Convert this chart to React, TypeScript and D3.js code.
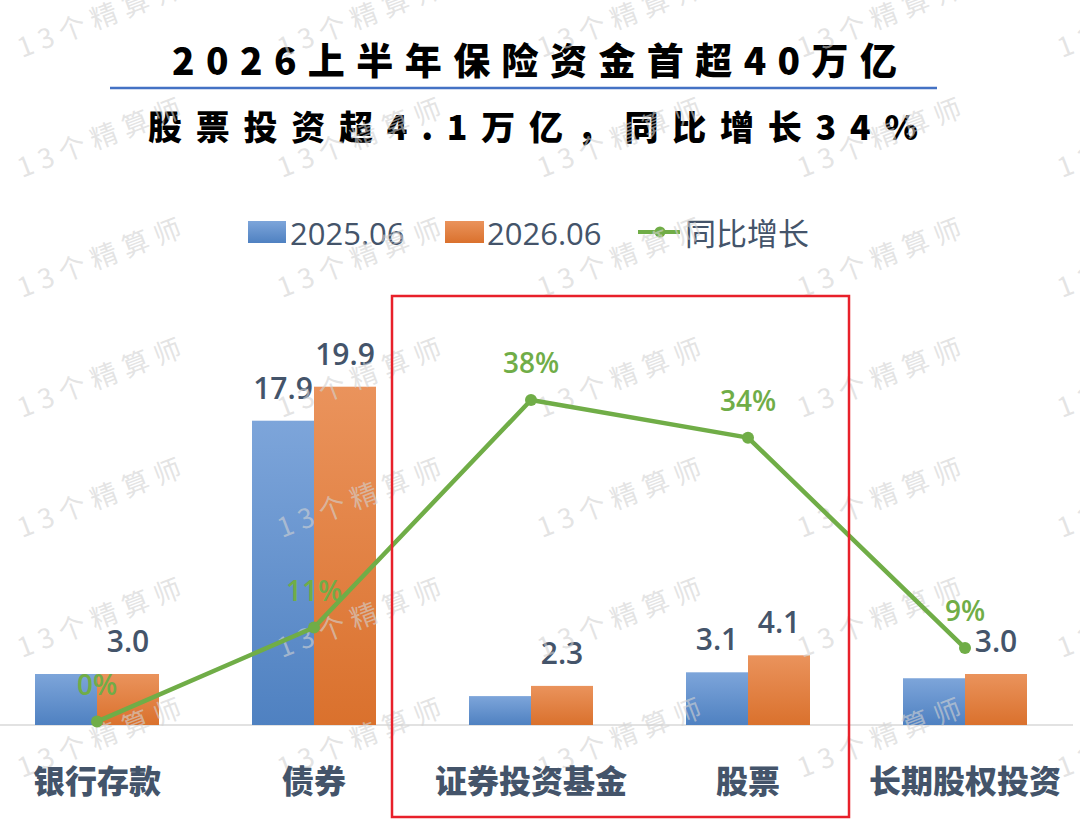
import React from "react";
import * as d3 from "d3";

const categories = ["银行存款", "债券", "证券投资基金", "股票", "长期股权投资"];
const series = ["2025.06", "2026.06"];
const values2025 = [3.0, 17.9, 1.7, 3.1, 2.75];
const values2026 = [3.0, 19.9, 2.3, 4.1, 3.0];
const show2025Label = [false, true, false, true, false];
const show2026Label = [true, true, true, true, true];
const growth = [0.004, 0.114, 0.38, 0.336, 0.09];
const growthName = "同比增长";
const title1 = "2026上半年保险资金首超40万亿";
const title2 = "股票投资超4.1万亿，同比增长34%";
const watermark = "13个精算师";

const W = 1080;
const H = 829;
const BASE = 725;

const CJK = "'Noto Sans CJK SC', 'Noto Sans', sans-serif";
const NUM = "'Open Sans', 'Noto Sans', sans-serif";
const SLATE = "#44546A";
const GREEN = "#70AD47";

export default function App() {
  const x0 = d3.scaleBand<string>().domain(categories).range([-11.5, 1073.5]).padding(0);
  const x1 = d3.scaleBand<string>().domain(series).range([-62, 62]).padding(0);
  const y = d3.scaleLinear().domain([0, 25]).range([BASE, 300]);
  const y2 = d3.scaleLinear().domain([0, 0.5]).range([BASE, BASE - 427.6]);
  const cx = (c: string) => (x0(c) as number) + x0.bandwidth() / 2;
  const pct = d3.format(".0%");
  const num = d3.format(".1f");

  const linePts: [number, number][] = categories.map((c, i) => [cx(c), y2(growth[i])]);
  const line = d3.line()(linePts) || "";

  const sets = [
    { name: series[0], vals: values2025, show: show2025Label, fill: "url(#gBlue)" },
    { name: series[1], vals: values2026, show: show2026Label, fill: "url(#gOrange)" },
  ];

  const wm: { x: number; y: number }[] = [];
  for (let i = 0; i < 5; i++) for (let j = 0; j < 7; j++) wm.push({ x: 22 + 260 * i, y: 58 + 120 * j });

  return (
    <svg
      width={W}
      height={H}
      viewBox={`0 0 ${W} ${H}`}
      style={{ position: "fixed", left: 0, top: 0, background: "#fff" }}
    >
      <defs>
        <linearGradient id="gBlue" x1="0" y1="0" x2="0" y2="1">
          <stop offset="0" stopColor="#7DA5DA" />
          <stop offset="1" stopColor="#4F81C1" />
        </linearGradient>
        <linearGradient id="gOrange" x1="0" y1="0" x2="0" y2="1">
          <stop offset="0" stopColor="#EA935C" />
          <stop offset="1" stopColor="#DA712D" />
        </linearGradient>
      </defs>
      <rect x={0} y={0} width={W} height={H} fill="#fff" />

      {/* Titles */}
      <text
        x={172}
        y={75}
        textLength={725}
        lengthAdjust="spacing"
        fontFamily={CJK}
        fontWeight={900}
        fontSize={37}
        fill="#000"
      >
        {title1}
      </text>
      <line x1={110} x2={937} y1={88} y2={88} stroke="#4472C4" strokeWidth={2.5} />
      <text
        x={148}
        y={140}
        textLength={770}
        lengthAdjust="spacing"
        fontFamily={CJK}
        fontWeight={900}
        fontSize={34}
        fill="#000"
      >
        {title2}
      </text>

      {/* Legend */}
      <g>
        <rect x={248} y={221} width={38} height={22} fill="url(#gBlue)" />
        <text x={290} y={245} fontFamily={NUM} fontSize={31} fill={SLATE}>
          {series[0]}
        </text>
        <rect x={445} y={221} width={39} height={22} fill="url(#gOrange)" />
        <text x={487} y={245} fontFamily={NUM} fontSize={31} fill={SLATE}>
          {series[1]}
        </text>
        <line x1={638} x2={680} y1={232} y2={232} stroke={GREEN} strokeWidth={4} />
        <circle cx={660} cy={232} r={5.5} fill={GREEN} />
        <text x={685} y={245} fontFamily={CJK} fontSize={31} fill={SLATE}>
          {growthName}
        </text>
      </g>

      {/* Axis baseline */}
      <line x1={0} x2={1073} y1={BASE} y2={BASE} stroke="#D9D9D9" strokeWidth={1.5} />

      {/* Bars */}
      {sets.map((s) =>
        categories.map((c, i) => {
          const bx = cx(c) + (x1(s.name) as number);
          const by = y(s.vals[i]);
          return (
            <rect
              key={s.name + c}
              x={bx}
              y={by}
              width={x1.bandwidth()}
              height={BASE - by}
              fill={s.fill}
            />
          );
        })
      )}

      {/* Bar labels */}
      {sets.map((s) =>
        categories.map((c, i) =>
          s.show[i] ? (
            <text
              key={"l" + s.name + c}
              x={cx(c) + (x1(s.name) as number) + x1.bandwidth() / 2}
              y={y(s.vals[i]) - 22}
              textAnchor="middle"
              fontFamily={NUM}
              fontWeight={600}
              fontSize={30}
              fill={SLATE}
            >
              {num(s.vals[i])}
            </text>
          ) : null
        )
      )}

      {/* Watermarks */}
      <g fill="#D2D2D2" fillOpacity={0.62} fontFamily={CJK} fontSize={27} letterSpacing={7}>
        {wm.map((p, k) => (
          <text key={"w" + k} transform={`translate(${p.x},${p.y}) rotate(-21)`}>
            {watermark}
          </text>
        ))}
      </g>

      {/* Growth line */}
      <path d={line} fill="none" stroke={GREEN} strokeWidth={4.5} strokeLinejoin="round" />
      {linePts.map((p, i) => (
        <circle key={"c" + i} cx={p[0]} cy={p[1]} r={6} fill={GREEN} />
      ))}
      {linePts.map((p, i) => (
        <text
          key={"g" + i}
          x={p[0]}
          y={p[1] - 27}
          textAnchor="middle"
          fontFamily={NUM}
          fontWeight={600}
          fontSize={28}
          fill={GREEN}
        >
          {pct(growth[i])}
        </text>
      ))}

      {/* Category labels */}
      {categories.map((c) => (
        <text
          key={"x" + c}
          x={cx(c)}
          y={793}
          textAnchor="middle"
          fontFamily={CJK}
          fontWeight={900}
          fontSize={32}
          fill={SLATE}
        >
          {c}
        </text>
      ))}

      {/* Highlight box */}
      <rect
        x={392}
        y={296}
        width={457}
        height={521}
        fill="none"
        stroke="#E8202A"
        strokeWidth={2.5}
      />
    </svg>
  );
}
